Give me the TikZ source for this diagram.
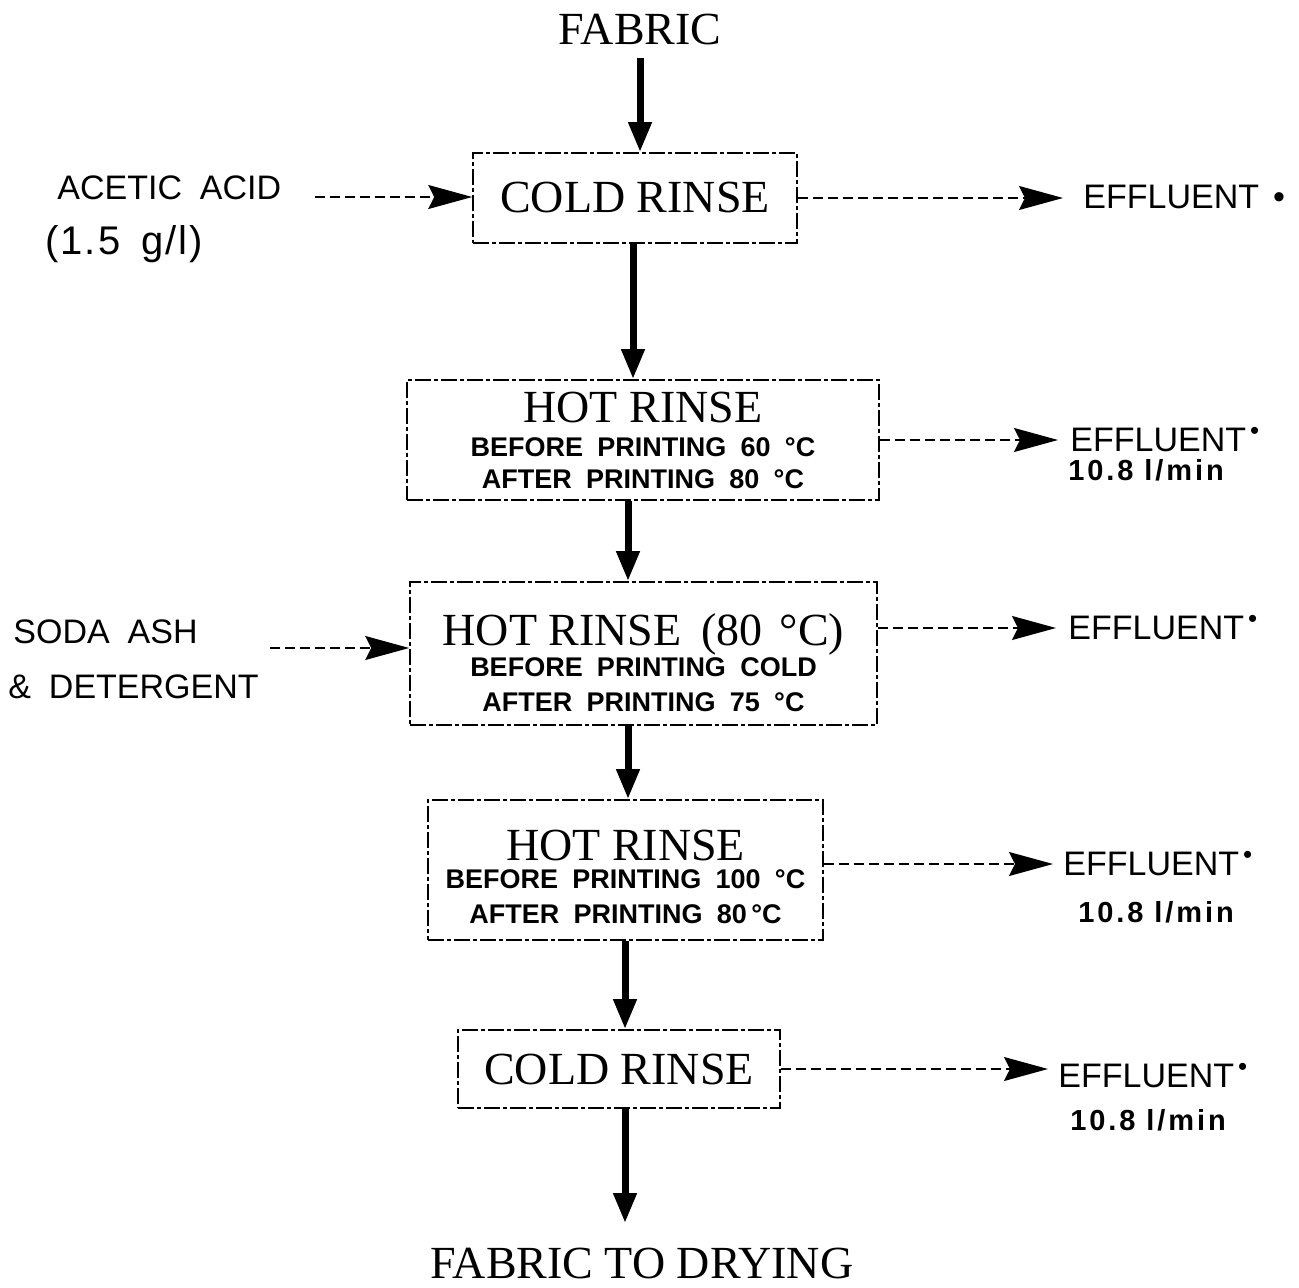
\documentclass[tikz,border=0pt]{standalone}
\usepackage{fontspec}
\setmainfont{Liberation Serif}
\newfontfamily\serifw[WordSpace=2.2]{Liberation Serif}
\newfontfamily\serift{Liberation Serif}
\newfontfamily\sansf[WordSpace=1.9]{Liberation Sans}
\newfontfamily\sansc[LetterSpace=5,WordSpace=1.6]{Liberation Sans}
\newfontfamily\sansr[LetterSpace=10]{Liberation Sans}
\usetikzlibrary{arrows.meta,calc}
\tikzset{
  flow/.style={line width=3.5pt, -{Triangle[length=15pt,width=11pt]}},
  feed/.style={line width=0.8pt, dash pattern=on 5pt off 2.5pt, -{Stealth[length=22pt,width=12pt,inset=3pt]}},
  stagebox/.style={draw, line width=0.8pt, dash pattern=on 8pt off 1.5pt on 2pt off 1.5pt,
    align=center, inner sep=0pt, font={\sansf\bfseries\fontsize{13.5}{17}\selectfont}},
  title/.style={inner sep=0pt, font={\serift\fontsize{23}{27}\selectfont}},
  chem/.style={inner sep=0pt, font={\sansf\fontsize{17}{21}\selectfont}},
  effl/.style={inner sep=0pt, font={\sansf\fontsize{17}{20}\selectfont}},
  rate/.style={inner sep=0pt, font={\sansr\bfseries\fontsize{14.5}{17}\selectfont}},
}
\newcommand{\bigtxt}[1]{{\serifw\mdseries\fontsize{23}{27}\selectfont #1}}
\newcommand{\effdot}{\hspace{2pt}\raisebox{6pt}{\fontsize{13}{13}\selectfont •}}
\begin{document}
\begin{tikzpicture}[x=0.5pt,y=-0.5pt]
\useasboundingbox (0,0) rectangle (1299,1288);

% main column
\node[title,anchor=base] (fabric) at (640,45) {FABRIC};
\node[stagebox, minimum width=162pt, minimum height=45pt] (box1) at (635,198) {\bigtxt{COLD RINSE}};
\node[stagebox, minimum width=236pt, minimum height=60pt] (box2) at (643,440)
  {\bigtxt{HOT RINSE}\\ BEFORE PRINTING 60 °C\\[-1pt] AFTER PRINTING 80 °C};
\node[stagebox, minimum width=233.5pt, minimum height=71.5pt] (box3) at (643.5,653.5)
  {\bigtxt{\rule{0pt}{25pt}HOT RINSE\hspace{4pt} (80\hspace{3pt} °C)}\\[-1.5pt] BEFORE PRINTING COLD\\[0.5pt] AFTER PRINTING 75 °C};
\node[stagebox, minimum width=197.5pt, minimum height=70pt] (box4) at (625.5,870)
  {\bigtxt{\rule{0pt}{22pt}HOT RINSE}\\[-3pt] BEFORE PRINTING 100 °C\\[0.5pt] AFTER PRINTING 80\,°C};
\node[stagebox, minimum width=161pt, minimum height=39pt] (box5) at (619,1069) {\bigtxt{COLD RINSE}};
\node[title,anchor=base] (dry) at (642,1278) {FABRIC TO DRYING};

% inputs
\node[chem,anchor=base west] (acetic) at (57,200) {ACETIC ACID};
\node[chem,anchor=base west,font={\sansc\fontsize{20}{24}\selectfont}] (conc) at (45,255) {(1.5 g/l)};
\node[chem,anchor=base west] (soda) at (13,643) {SODA ASH};
\node[chem,anchor=base west] (deterg) at (8,698) {\& DETERGENT};
\coordinate (aa) at (315,197);
\coordinate (sa) at (270,648);

% outputs
\node[effl,anchor=west] (eff1) at (1083,197) {EFFLUENT\hspace{7pt}•};
\node[effl,anchor=west] (eff2) at (1070,440) {EFFLUENT\effdot};
\node[rate,anchor=west] (rate2) at (1068,470) {10.8 l/min};
\node[effl,anchor=west] (eff3) at (1068,628) {EFFLUENT\effdot};
\node[effl,anchor=west] (eff4) at (1063,864) {EFFLUENT\effdot};
\node[rate,anchor=west] (rate4) at (1078,912) {10.8 l/min};
\node[effl,anchor=west] (eff5) at (1058,1076) {EFFLUENT\effdot};
\node[rate,anchor=west] (rate5) at (1070,1120) {10.8 l/min};

% flow arrows
\coordinate (c1) at (633,0);
\coordinate (c2) at (628,0);
\coordinate (c3) at (628,0);
\coordinate (c4) at (625,0);
\coordinate (c5) at (625,0);
\draw[flow] ([yshift=-6pt]fabric.south) -- (fabric.south |- box1.north);
\draw[flow] (box1.south -| c1) -- (box2.north -| c1);
\draw[flow] (box2.south -| c2) -- (box3.north -| c2);
\draw[flow] (box3.south -| c3) -- (box4.north -| c3);
\draw[flow] (box4.south -| c4) -- (box5.north -| c4);
\draw[flow, shorten >=12pt] (box5.south -| c5) -- (dry.north -| c5);

% feed arrows
\draw[feed] (aa) -- (box1.west |- aa);
\draw[feed] (sa) -- (box3.west |- sa);

% effluent arrows
\draw[feed, shorten >=10pt] (box1.east) -- (box1.east -| eff1.west);
\draw[feed, shorten >=6pt] (box2.east) -- (box2.east -| eff2.west);
\draw[feed, shorten >=6pt] (box3.east |- eff3.west) -- (eff3.west);
\draw[feed, shorten >=5pt] (box4.east |- eff4.west) -- (eff4.west);
\draw[feed, shorten >=5pt] (box5.east) -- (box5.east -| eff5.west);
\end{tikzpicture}
\end{document}
